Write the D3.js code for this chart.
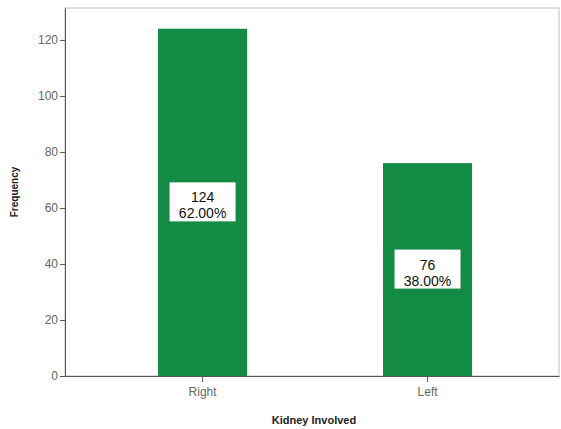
<!DOCTYPE html>
<html>
<head>
<meta charset="utf-8">
<script src="https://cdn.jsdelivr.net/npm/d3@7"></script>
<style>
  html, body { margin: 0; padding: 0; background: #fff; }
  svg { display: block; font-family: "Liberation Sans", Arial, sans-serif; }
</style>
</head>
<body>
<svg id="chart" width="561" height="429"></svg>
<script>
// Kidney involvement counts
const categories = ["Right", "Left"];
const counts = [124, 76];
const percents = ["62.00%", "38.00%"];
const yTicks = [0, 20, 40, 60, 80, 100, 120];

const svg = d3.select("#chart");
const plotLeft = 65, plotRight = 559, plotTop = 8, plotBottom = 376;

const x = d3.scaleBand()
  .domain(categories)
  .range([plotLeft, plotRight])
  .paddingInner(0.604)
  .paddingOuter(0.4)
  .align(0.517);

const y = d3.scaleLinear()
  .domain([0, 131.4])
  .range([plotBottom, plotTop]);

// plot frame
svg.append("rect")
  .attr("x", plotLeft).attr("y", plotTop)
  .attr("width", plotRight - plotLeft).attr("height", plotBottom - plotTop)
  .attr("fill", "#fff")
  .attr("stroke", "#bdbdbd").attr("stroke-width", 1);

// bars
svg.append("g").selectAll("rect")
  .data(categories)
  .join("rect")
  .attr("x", d => x(d))
  .attr("y", (d, i) => y(counts[i]))
  .attr("width", x.bandwidth())
  .attr("height", (d, i) => y(0) - y(counts[i]))
  .attr("fill", "#138b45");

// y axis
const yAxis = svg.append("g")
  .attr("transform", `translate(${plotLeft},0)`)
  .call(d3.axisLeft(y).tickValues(yTicks).tickSize(5).tickPadding(2).tickSizeOuter(0));
yAxis.select(".domain").attr("stroke", "#555");
yAxis.selectAll(".tick line").attr("stroke", "#555");
yAxis.selectAll(".tick text").attr("fill", "#666").style("font-size", "12px")
  .style("font-family", "'Liberation Sans', Arial, sans-serif");

// x axis
const xAxis = svg.append("g")
  .attr("transform", `translate(0,${plotBottom})`)
  .call(d3.axisBottom(x).tickSize(6).tickPadding(5).tickSizeOuter(0));
xAxis.select(".domain").attr("stroke", "#555");
xAxis.selectAll(".tick line").attr("stroke", "#555");
xAxis.selectAll(".tick text").attr("fill", "#666").style("font-size", "12px")
  .style("font-family", "'Liberation Sans', Arial, sans-serif");

// value labels inside bars: count over percentage on a white box
const labels = svg.append("g").selectAll("g")
  .data(categories)
  .join("g")
  .attr("transform", (d, i) => {
    const cx = x(d) + x.bandwidth() / 2;
    const cy = (y(counts[i]) + y(0)) / 2;
    return `translate(${cx},${cy})`;
  });
labels.append("rect")
  .attr("x", -33).attr("y", -20)
  .attr("width", 66).attr("height", 39)
  .attr("fill", "#fff");
labels.append("text")
  .attr("text-anchor", "middle")
  .attr("y", 0)
  .style("font-size", "14px")
  .attr("fill", "#111")
  .text((d, i) => counts[i]);
labels.append("text")
  .attr("text-anchor", "middle")
  .attr("y", 16)
  .style("font-size", "14px")
  .attr("fill", "#111")
  .text((d, i) => percents[i]);

// axis titles
svg.append("text")
  .attr("transform", `translate(18,${(plotTop + plotBottom) / 2}) rotate(-90)`)
  .attr("text-anchor", "middle")
  .style("font-size", "10px")
  .style("font-weight", "bold")
  .attr("fill", "#222")
  .text("Frequency");

svg.append("text")
  .attr("x", 314).attr("y", 424)
  .attr("text-anchor", "middle")
  .style("font-size", "11px")
  .style("font-weight", "bold")
  .attr("fill", "#222")
  .text("Kidney Involved");
</script>
</body>
</html>
